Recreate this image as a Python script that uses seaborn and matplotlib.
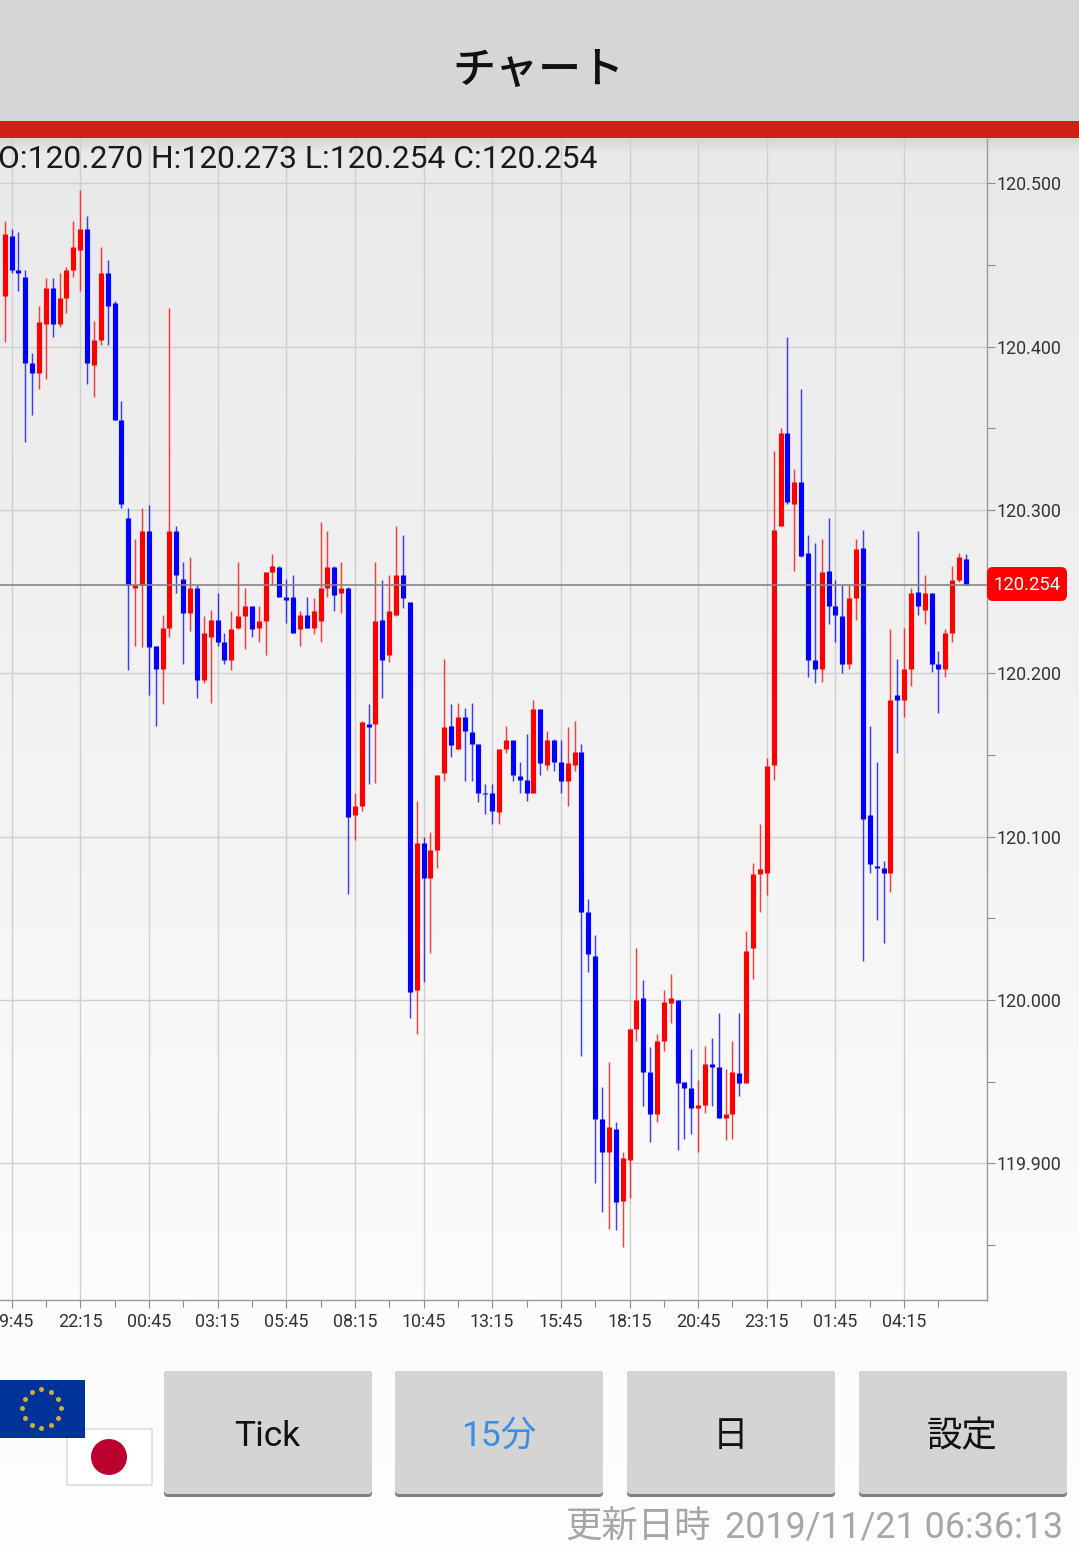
import numpy as np
import pandas as pd
import seaborn as sns
import matplotlib.pyplot as plt
from matplotlib.patches import FancyBboxPatch, Rectangle, Circle

# 15 minute candles, first one is cut off by the left edge of the screen
open_ = [120.378,
    120.431, 120.468, 120.447, 120.443, 120.390, 120.384, 120.414, 120.436, 120.414, 120.430,
    120.447, 120.459, 120.472, 120.389, 120.404, 120.445, 120.427, 120.355, 120.295, 120.252,
    120.254, 120.287, 120.217, 120.203, 120.228, 120.287, 120.258, 120.237, 120.252, 120.196,
    120.222, 120.233, 120.219, 120.208, 120.228, 120.235, 120.241, 120.228, 120.232, 120.262,
    120.265, 120.247, 120.247, 120.227, 120.236, 120.228, 120.232, 120.252, 120.265, 120.249,
    120.252, 120.113, 120.119, 120.169, 120.169, 120.233, 120.211, 120.236, 120.260, 120.244,
    120.006, 120.096, 120.075, 120.092, 120.139, 120.168, 120.154, 120.173, 120.164, 120.157,
    120.127, 120.127, 120.115, 120.154, 120.159, 120.137, 120.135, 120.127, 120.178, 120.144,
    120.159, 120.146, 120.134, 120.144, 120.152, 120.054, 120.027, 119.927, 119.907, 119.921,
    119.877, 119.902, 119.982, 120.001, 119.956, 119.930, 119.975, 119.998, 120.000, 119.950,
    119.946, 119.934, 119.936, 119.961, 119.959, 119.928, 119.930, 119.955, 119.949, 120.032,
    120.077, 120.078, 120.144, 120.290, 120.347, 120.304, 120.317, 120.274, 120.208, 120.203,
    120.263, 120.241, 120.235, 120.206, 120.246, 120.277, 120.113, 120.082, 120.081, 120.078,
    120.187, 120.184, 120.203, 120.250, 120.239, 120.249, 120.206, 120.203, 120.225, 120.257,
    120.270]
high = [120.431,
    120.477, 120.472, 120.470, 120.447, 120.396, 120.425, 120.442, 120.442, 120.445, 120.449,
    120.477, 120.496, 120.480, 120.416, 120.461, 120.453, 120.428, 120.367, 120.301, 120.282,
    120.301, 120.303, 120.217, 120.236, 120.424, 120.290, 120.268, 120.271, 120.254, 120.235,
    120.239, 120.249, 120.225, 120.238, 120.268, 120.252, 120.241, 120.241, 120.262, 120.273,
    120.266, 120.258, 120.260, 120.238, 120.247, 120.246, 120.293, 120.287, 120.266, 120.268,
    120.253, 120.127, 120.171, 120.181, 120.268, 120.257, 120.260, 120.290, 120.285, 120.244,
    120.122, 120.100, 120.103, 120.138, 120.209, 120.181, 120.182, 120.179, 120.182, 120.157,
    120.132, 120.132, 120.154, 120.168, 120.159, 120.146, 120.163, 120.184, 120.178, 120.165,
    120.160, 120.159, 120.167, 120.171, 120.157, 120.062, 120.040, 119.947, 119.962, 119.925,
    119.907, 119.983, 120.032, 120.012, 119.971, 119.979, 120.006, 120.016, 120.000, 119.950,
    119.970, 119.951, 119.972, 119.977, 119.992, 119.958, 119.975, 119.992, 120.042, 120.084,
    120.108, 120.148, 120.336, 120.350, 120.406, 120.325, 120.374, 120.285, 120.280, 120.282,
    120.295, 120.257, 120.254, 120.254, 120.282, 120.288, 120.168, 120.146, 120.085, 120.227,
    120.209, 120.228, 120.252, 120.287, 120.260, 120.249, 120.214, 120.227, 120.266, 120.274,
    120.273]
low = [120.378,
    120.403, 120.445, 120.434, 120.342, 120.358, 120.374, 120.380, 120.406, 120.412, 120.421,
    120.443, 120.434, 120.377, 120.369, 120.401, 120.401, 120.355, 120.301, 120.202, 120.217,
    120.216, 120.187, 120.168, 120.181, 120.222, 120.249, 120.206, 120.226, 120.185, 120.194,
    120.182, 120.217, 120.206, 120.202, 120.227, 120.215, 120.222, 120.219, 120.211, 120.254,
    120.247, 120.231, 120.225, 120.217, 120.228, 120.224, 120.219, 120.247, 120.238, 120.237,
    120.065, 120.098, 120.116, 120.132, 120.133, 120.185, 120.207, 120.235, 120.240, 119.989,
    119.979, 120.011, 120.029, 120.081, 120.134, 120.149, 120.154, 120.134, 120.134, 120.121,
    120.114, 120.108, 120.108, 120.151, 120.134, 120.127, 120.122, 120.127, 120.138, 120.141,
    120.140, 120.127, 120.119, 120.140, 119.966, 120.017, 119.888, 119.870, 119.860, 119.859,
    119.849, 119.879, 119.975, 119.935, 119.913, 119.925, 119.969, 119.986, 119.908, 119.915,
    119.918, 119.907, 119.931, 119.935, 119.928, 119.914, 119.915, 119.941, 119.949, 120.013,
    120.054, 120.064, 120.135, 120.290, 120.304, 120.263, 120.271, 120.198, 120.194, 120.195,
    120.230, 120.219, 120.200, 120.203, 120.233, 120.024, 120.078, 120.049, 120.035, 120.066,
    120.151, 120.173, 120.192, 120.236, 120.230, 120.201, 120.176, 120.198, 120.219, 120.256,
    120.254]
close = [120.431,
    120.469, 120.447, 120.445, 120.390, 120.384, 120.415, 120.436, 120.414, 120.430, 120.447,
    120.461, 120.472, 120.390, 120.404, 120.445, 120.425, 120.355, 120.304, 120.254, 120.254,
    120.287, 120.216, 120.203, 120.228, 120.287, 120.260, 120.237, 120.252, 120.196, 120.225,
    120.233, 120.219, 120.208, 120.227, 120.235, 120.241, 120.227, 120.232, 120.262, 120.266,
    120.247, 120.245, 120.225, 120.236, 120.228, 120.238, 120.252, 120.265, 120.248, 120.252,
    120.112, 120.119, 120.170, 120.167, 120.232, 120.208, 120.238, 120.260, 120.246, 120.005,
    120.096, 120.075, 120.092, 120.138, 120.167, 120.156, 120.173, 120.165, 120.157, 120.127,
    120.126, 120.116, 120.154, 120.159, 120.138, 120.135, 120.127, 120.178, 120.145, 120.159,
    120.146, 120.134, 120.145, 120.152, 120.054, 120.028, 119.927, 119.907, 119.922, 119.876,
    119.903, 119.982, 120.000, 119.956, 119.930, 119.975, 119.999, 120.001, 119.949, 119.946,
    119.934, 119.936, 119.961, 119.959, 119.928, 119.930, 119.956, 119.949, 120.030, 120.077,
    120.080, 120.143, 120.288, 120.347, 120.305, 120.317, 120.272, 120.208, 120.203, 120.262,
    120.241, 120.236, 120.206, 120.246, 120.276, 120.111, 120.083, 120.081, 120.078, 120.184,
    120.184, 120.203, 120.249, 120.241, 120.249, 120.206, 120.203, 120.225, 120.257, 120.271,
    120.254]

first_candle = -1
time_labels = ["19:45", "22:15", "00:45", "03:15", "05:45", "08:15", "10:45",
               "13:15", "15:45", "18:15", "20:45", "23:15", "01:45", "04:15"]
price_ticks = [119.9, 120.0, 120.1, 120.2, 120.3, 120.4, 120.5]
price_minor = [119.85, 119.95, 120.05, 120.15, 120.25, 120.35, 120.45]
last_price = 120.254
ohlc_text = "O:120.270 H:120.273 L:120.254 C:120.254"
buttons = ["Tick", "15分", "日", "設定"]
updated_label = "更新日時"
updated_time = "2019/11/21 06:36:13"

W, H = 1079, 1552
sns.set_theme(style="white")
plt.rcParams["font.family"] = ["Roboto", "Noto Sans CJK JP", "DejaVu Sans"]

df = pd.DataFrame({"open": open_, "high": high, "low": low, "close": close})
df["candle"] = np.arange(len(df)) + first_candle
df["dir"] = np.where(df["close"] > df["open"], "up", "down")
colors = {"up": "#ff0000", "down": "#0000ff"}

fig = plt.figure(figsize=(W / 100, H / 100), dpi=100)

# page background with the soft shadow under the red bar
bg = fig.add_axes([0, 0, 1, 1], zorder=0)
shade = np.interp(np.arange(H), [0, 139, 152, 1300, H], [0.83, 0.84, 0.91, 0.985, 0.99])
bg.imshow(shade[:, None], cmap="gray", vmin=0, vmax=1, aspect="auto", extent=[0, W, H, 0])
bg.axis("off")

ax = fig.add_axes([0, 1 - 1300 / H, 987 / W, 1161 / H], zorder=1)
ax.patch.set_alpha(0)

wicks = df.melt(id_vars=["candle", "dir"], value_vars=["high", "low"], value_name="price")
bodies = df.melt(id_vars=["candle", "dir"], value_vars=["open", "close"], value_name="price")
sns.lineplot(wicks, x="candle", y="price", hue="dir", units="candle", estimator=None,
             palette=colors, linewidth=1.05, alpha=0.75, legend=False, ax=ax,
             solid_capstyle="butt", zorder=3)
sns.lineplot(bodies, x="candle", y="price", hue="dir", units="candle", estimator=None,
             palette=colors, linewidth=3.7, legend=False, ax=ax,
             solid_capstyle="butt", zorder=4)
ax.axhline(last_price, color="#858585", lw=1.2, zorder=5)

ax.set_xlabel("")
ax.set_ylabel("")
ax.set_xticks(np.arange(len(time_labels)) * 10 + 1)
ax.set_xticklabels(time_labels)
ax.set_xticks(np.arange(len(time_labels)) * 10 + 6, minor=True)
ax.yaxis.tick_right()
ax.set_yticks(price_ticks)
ax.set_yticklabels([f"{p:.3f}" for p in price_ticks])
ax.set_yticks(price_minor, minor=True)
# limits after the ticks, set_xticks widens the view otherwise
ax.set_xlim(-4.7 / 6.866, (987 - 4.7) / 6.866)
ax.set_ylim(120.5 - (1300 - 183.5) / 1633, 120.5 + (183.5 - 139) / 1633)
ax.grid(True, which="major", color="#cfcfcf", lw=1.0)
ax.set_axisbelow(True)
ax.tick_params(which="both", length=5.5, width=0.8, color="#8c8c8c", bottom=True, right=True,
               labelsize=12.9, labelcolor="#333333")
ax.tick_params(axis="y", which="major", pad=1.7)
ax.tick_params(axis="x", which="major", pad=4.2)
ax.tick_params(axis="x", which="minor", length=5)
for side in ["top", "left"]:
    ax.spines[side].set_visible(False)
for side in ["right", "bottom"]:
    ax.spines[side].set_color("#9a9a9a")
    ax.spines[side].set_linewidth(1.0)

# screen furniture in pixel coordinates
ui = fig.add_axes([0, 0, 1, 1], zorder=2)
ui.set_xlim(0, W)
ui.set_ylim(H, 0)
ui.axis("off")
ui.add_patch(Rectangle((0, 0), W, 121, color="#d6d6d6", lw=0))
ui.add_patch(Rectangle((0, 121), W, 17, color="#cf2015", lw=0))
ui.text(538, 71, "チャート", fontsize=31, fontweight="medium", ha="center", va="center", color="#111111")
ui.text(-2, 159, ohlc_text, fontsize=22.9, ha="left", va="center", color="#1a1a1a")

ui.add_patch(FancyBboxPatch((990, 570), 74, 28, boxstyle="round,pad=3,rounding_size=6",
                            fc="#ff0000", ec="none"))
ui.text(1027.5, 585.5, f"{last_price:.3f}", color="white", fontsize=13.3, ha="center", va="center")

# flags
ui.add_patch(Rectangle((66.5, 1428.5), 85, 56, fc="white", ec="#dddddd", lw=1.2))
ui.add_patch(Circle((109, 1457), 18, fc="#bc002d", ec="none"))
ui.add_patch(Rectangle((0, 1379.5), 85, 58, fc="#003399", ec="none"))
star_angle = np.arange(12) * np.pi / 6
ui.scatter(41.3 + 19.3 * np.cos(star_angle), 1408.3 + 19.3 * np.sin(star_angle),
           marker="o", s=13, color="#c9ae3e", linewidths=0, zorder=4)

button_left = [164, 395, 627, 859]
for left, label in zip(button_left, buttons):
    ui.add_patch(FancyBboxPatch((left + 2, 1373), 204, 122, boxstyle="round,pad=2,rounding_size=4",
                                fc="#7f7f7f", ec="none"))
    ui.add_patch(FancyBboxPatch((left + 2, 1373), 204, 119, boxstyle="round,pad=2,rounding_size=4",
                                fc="#d4d4d4", ec="none"))
    ui.text(left + 103.5, 1436.5, label, fontsize=25.5, ha="center", va="center",
            color="#3b8fe3" if label == "15分" else "#111111")

ui.text(711, 1528, updated_label, fontsize=26.2, ha="right", va="center", color="#a6a6a6")
ui.text(1063, 1528, updated_time, fontsize=25.8, ha="right", va="center", color="#a6a6a6")

fig.savefig("out.png", dpi=100)
